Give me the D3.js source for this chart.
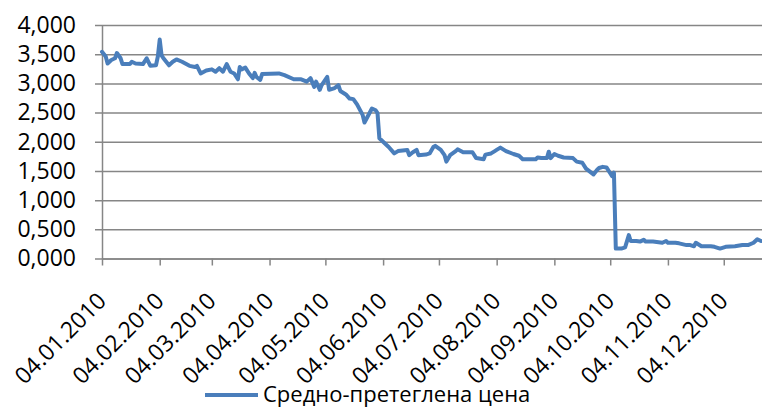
<!DOCTYPE html>
<html><head><meta charset="utf-8">
<script src="https://cdn.jsdelivr.net/npm/d3@7"></script>
<style>
body{margin:0;background:#fff;}
text{font-family:"Open Sans",sans-serif;fill:#000;}
</style>
</head><body>
<svg id="chart" width="762" height="407"></svg>
<script>
const seriesName = "Средно-претеглена цена";
const dates = [
"2010-01-04","2010-01-06","2010-01-07","2010-01-09","2010-01-11","2010-01-12","2010-01-14","2010-01-15","2010-01-19","2010-01-20",
"2010-01-22","2010-01-26","2010-01-28","2010-01-30","2010-02-02","2010-02-03","2010-02-04","2010-02-05","2010-02-06","2010-02-09",
"2010-02-11","2010-02-13","2010-02-16","2010-02-20","2010-02-23","2010-02-24","2010-02-26","2010-03-01","2010-03-04","2010-03-06",
"2010-03-08","2010-03-10","2010-03-12","2010-03-14","2010-03-16","2010-03-18","2010-03-19","2010-03-20","2010-03-22","2010-03-24",
"2010-03-26","2010-03-27","2010-03-28","2010-03-30","2010-03-31","2010-04-09","2010-04-12","2010-04-17","2010-04-21","2010-04-24",
"2010-04-26","2010-04-28","2010-04-29","2010-05-01","2010-05-02","2010-05-05","2010-05-06","2010-05-09","2010-05-11","2010-05-12",
"2010-05-15","2010-05-17","2010-05-19","2010-05-21","2010-05-24","2010-05-25","2010-05-29","2010-05-31","2010-06-01","2010-06-02",
"2010-06-04","2010-06-07","2010-06-10","2010-06-12","2010-06-17","2010-06-18","2010-06-20","2010-06-22","2010-06-23","2010-06-27",
"2010-06-29","2010-07-01","2010-07-02","2010-07-05","2010-07-07","2010-07-08","2010-07-10","2010-07-13","2010-07-14","2010-07-17",
"2010-07-22","2010-07-24","2010-07-28","2010-07-29","2010-08-01","2010-08-03","2010-08-04","2010-08-06","2010-08-09","2010-08-13",
"2010-08-16","2010-08-18","2010-08-22","2010-08-25","2010-08-26","2010-08-28","2010-08-31","2010-09-01","2010-09-02","2010-09-04",
"2010-09-06","2010-09-09","2010-09-14","2010-09-16","2010-09-19","2010-09-21","2010-09-25","2010-09-27","2010-09-28","2010-09-30",
"2010-10-02","2010-10-04","2010-10-05","2010-10-06","2010-10-07","2010-10-10","2010-10-12","2010-10-14","2010-10-15","2010-10-18",
"2010-10-20","2010-10-22","2010-10-23","2010-10-27","2010-11-01","2010-11-03","2010-11-04","2010-11-08","2010-11-10","2010-11-14",
"2010-11-16","2010-11-18","2010-11-19","2010-11-22","2010-11-27","2010-11-29","2010-12-02","2010-12-05","2010-12-10","2010-12-14",
"2010-12-17","2010-12-20","2010-12-22","2010-12-24"
];
const prices = [
3.54,3.46,3.34,3.40,3.43,3.52,3.43,3.33,3.33,3.37,
3.34,3.33,3.43,3.30,3.31,3.46,3.75,3.48,3.43,3.31,
3.37,3.41,3.37,3.30,3.28,3.30,3.17,3.22,3.24,3.20,
3.26,3.20,3.33,3.20,3.17,3.07,3.28,3.24,3.27,3.17,
3.09,3.18,3.11,3.06,3.16,3.17,3.14,3.07,3.07,3.03,
3.09,2.94,3.03,2.89,2.97,3.11,2.89,2.92,2.97,2.87,
2.81,2.74,2.73,2.64,2.46,2.33,2.57,2.54,2.49,2.06,
2.00,1.91,1.80,1.84,1.86,1.77,1.82,1.86,1.77,1.78,
1.80,1.91,1.93,1.86,1.77,1.66,1.77,1.84,1.87,1.82,
1.82,1.72,1.70,1.78,1.80,1.84,1.86,1.90,1.84,1.79,
1.76,1.70,1.70,1.70,1.73,1.72,1.72,1.83,1.72,1.79,
1.76,1.73,1.72,1.66,1.64,1.54,1.44,1.52,1.55,1.57,
1.56,1.46,1.41,1.47,0.17,0.17,0.19,0.40,0.30,0.30,
0.29,0.32,0.29,0.29,0.27,0.30,0.27,0.27,0.26,0.23,
0.23,0.21,0.27,0.21,0.21,0.20,0.17,0.20,0.21,0.23,
0.23,0.27,0.33,0.30
];
const yTicks = [0, 0.5, 1, 1.5, 2, 2.5, 3, 3.5, 4];
const xTickLabels = ["04.01.2010","04.02.2010","04.03.2010","04.04.2010","04.05.2010","04.06.2010",
  "04.07.2010","04.08.2010","04.09.2010","04.10.2010","04.11.2010","04.12.2010"];
const xStart = "2010-01-04", xEnd = "2010-12-24";

const svg = d3.select("#chart");
const parseISO = d3.timeParse("%Y-%m-%d");
const parseLbl = d3.timeParse("%d.%m.%Y");
const fmtLbl = d3.timeFormat("%d.%m.%Y");

const plotL = 102, plotR = 761, plotT = 25, plotB = 258.5;
const x = d3.scaleTime().domain([parseISO(xStart), parseISO(xEnd)]).range([plotL, plotR]);
const y = d3.scaleLinear().domain([0, 4]).range([plotB, plotT]);
const gridColor = "#868686";

// Y gridlines + labels
const gy = svg.append("g").attr("transform", `translate(${plotL - 7},0)`)
  .call(d3.axisLeft(y).tickValues(yTicks).tickSizeInner(-(762 - plotL + 7)).tickSizeOuter(0).tickPadding(19)
    .tickFormat(d => d3.format(".3f")(d).replace(".", ",")));
gy.select(".domain").remove();
gy.selectAll(".tick line").attr("stroke", gridColor).attr("stroke-width", 1.5);
gy.selectAll(".tick text").style("font-size", "23px").style("font-family", '"Open Sans",sans-serif').attr("fill", "#000");

// X axis
const gx = svg.append("g").attr("transform", `translate(0,${plotB})`)
  .call(d3.axisBottom(x).tickValues(xTickLabels.map(parseLbl)).tickSizeInner(7).tickSizeOuter(0).tickFormat(fmtLbl));
gx.select(".domain").attr("stroke", gridColor).attr("stroke-width", 1.5)
  .attr("d", `M${plotL},0.5H762`);
gx.selectAll(".tick line").attr("stroke", gridColor).attr("stroke-width", 1.5);
gx.selectAll(".tick text")
  .style("font-size", "23px").style("font-family", '"Open Sans",sans-serif').attr("fill", "#000")
  .attr("text-anchor", "end").attr("x", 0).attr("y", 0).attr("dy", 0)
  .attr("transform", "translate(5,44) rotate(-45)");

// Y axis line
svg.append("g").attr("transform", `translate(${plotL},0)`)
  .call(d3.axisLeft(y).tickValues([]).tickSizeOuter(0))
  .select(".domain").attr("stroke", gridColor).attr("stroke-width", 1.5);

// Series
const data = dates.map((d, i) => ({date: parseISO(d), value: prices[i]}));
svg.append("path").datum(data)
  .attr("fill", "none").attr("stroke", "#4A7EBB").attr("stroke-width", 4)
  .attr("stroke-linejoin", "round").attr("stroke-linecap", "round")
  .attr("d", d3.line().x(d => x(d.date)).y(d => y(d.value)));

// Legend
const lg = svg.append("g");
lg.append("line").attr("x1", 205).attr("x2", 258).attr("y1", 395).attr("y2", 395)
  .attr("stroke", "#4A7EBB").attr("stroke-width", 4);
lg.append("text").attr("x", 263).attr("y", 402).style("font-size", "22px").text(seriesName);
</script>
</body></html>
